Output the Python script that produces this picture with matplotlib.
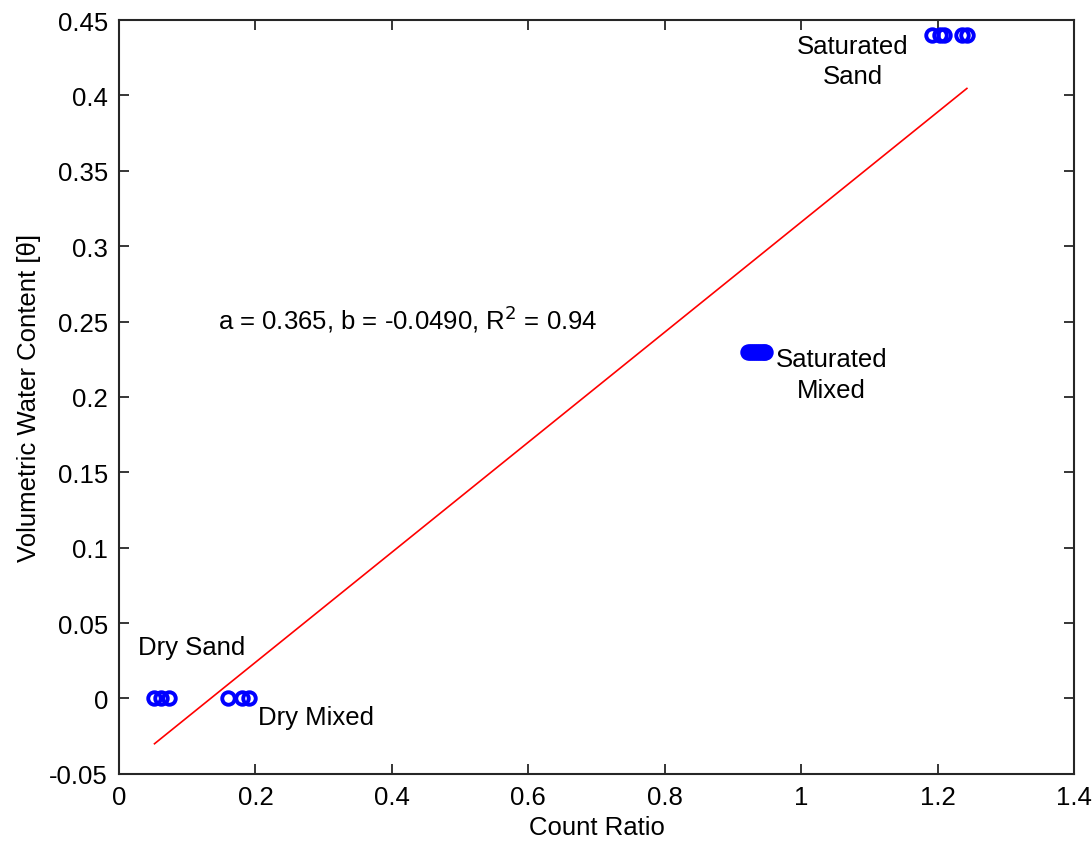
import numpy as np
import matplotlib
matplotlib.use("Agg")
import matplotlib.pyplot as plt

plt.rcParams['font.family'] = ['Liberation Sans', 'DejaVu Sans']

# Messpunkte (Count Ratio, volumetric water content)
dry_sand_x = [0.052, 0.062, 0.073]
dry_sand_y = [0.0, 0.0, 0.0]
dry_mixed_x = [0.160, 0.180, 0.190]
dry_mixed_y = [0.0, 0.0, 0.0]
sat_mixed_x = [0.922, 0.925, 0.928, 0.931, 0.934, 0.937, 0.940, 0.943, 0.945, 0.947]
sat_mixed_y = [0.23] * 10
sat_sand_x = [1.192, 1.203, 1.210, 1.236, 1.243]
sat_sand_y = [0.44] * 5

# Fit parameters
a = 0.365
b = -0.0490
r2 = 0.94

xticks = [0, 0.2, 0.4, 0.6, 0.8, 1.0, 1.2, 1.4]
xticklabels = ['0', '0.2', '0.4', '0.6', '0.8', '1', '1.2', '1.4']
yticks = [-0.05, 0, 0.05, 0.1, 0.15, 0.2, 0.25, 0.3, 0.35, 0.4, 0.45]
yticklabels = ['-0.05', '0', '0.05', '0.1', '0.15', '0.2', '0.25', '0.3', '0.35', '0.4', '0.45']

x_all = np.concatenate([dry_sand_x, dry_mixed_x, sat_mixed_x, sat_sand_x])
y_all = np.concatenate([dry_sand_y, dry_mixed_y, sat_mixed_y, sat_sand_y])

fig = plt.figure(figsize=(10.92, 8.45), dpi=100)
ax = fig.add_axes([0.109, 0.083, 0.8745, 0.892])

# Punkte
ax.plot(x_all, y_all, 'o', color='#0000ff', markerfacecolor='none',
        markersize=9, markeredgewidth=2.8, clip_on=False, zorder=3)

# Regressionsgerade
xl = np.array([x_all.min(), x_all.max()])
ax.plot(xl, a * xl + b, '-', color='red', linewidth=1.2, zorder=2)

fs = 18.5
ax.text(0.145, 0.252, 'a = %.3f, b = %.4f, R$^2$ = %.2f' % (a, b, r2),
        fontsize=fs, va='center', ha='left')
ax.text(1.076, 0.423, 'Saturated\nSand', fontsize=fs, ha='center', va='center', linespacing=1.35)
ax.text(1.044, 0.215, 'Saturated\nMixed', fontsize=fs, ha='center', va='center', linespacing=1.35)
ax.text(0.106, 0.034, 'Dry Sand', fontsize=fs, ha='center', va='center')
ax.text(0.204, -0.0126, 'Dry Mixed', fontsize=fs, ha='left', va='center')

ax.set_xlim(0, 1.4)
ax.set_ylim(-0.05, 0.45)
ax.set_xticks(xticks)
ax.set_xticklabels(xticklabels)
ax.set_yticks(yticks)
ax.set_yticklabels(yticklabels)
ax.tick_params(direction='in', top=True, right=True, length=7, width=1.3,
               labelsize=fs, color='#262626', pad=8)
for s in ax.spines.values():
    s.set_linewidth(1.5)
    s.set_color('#262626')

ax.set_xlabel('Count Ratio', fontsize=fs, labelpad=4)
ax.set_ylabel('Volumetric Water Content [θ]', fontsize=fs, labelpad=6)

fig.savefig('out.png', dpi=100)
